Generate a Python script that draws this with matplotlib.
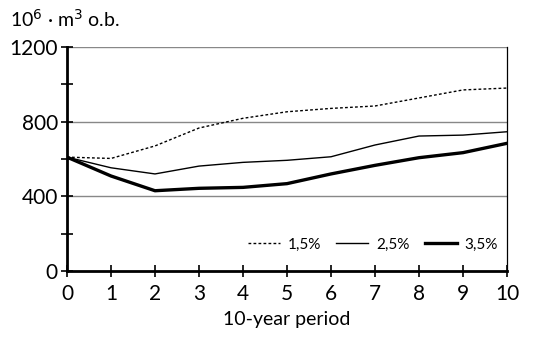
import numpy as np
import matplotlib.pyplot as plt
from matplotlib.ticker import MultipleLocator

# data
periods = np.arange(0, 11)
r15 = [610, 603, 670, 766, 818, 853, 871, 884, 927, 970, 980]
r25 = [610, 553, 520, 562, 582, 593, 612, 675, 723, 728, 746]
r35 = [610, 509, 430, 443, 448, 468, 520, 566, 607, 634, 684]

plt.rcParams['font.family'] = ['Lato', 'DejaVu Sans']

fig = plt.figure(figsize=(5.35, 3.4), dpi=100)
ax = fig.add_axes([0.1252, 0.2029, 0.8225, 0.6589])

# gray grid lines
for v in (400, 800, 1200):
    ax.axhline(v, color='#888888', lw=1.0, zorder=1)

ax.plot(periods, r15, color='black', lw=1.0, ls=(0, (2, 1.6)), label='1,5%', zorder=3)
ax.plot(periods, r25, color='black', lw=1.0, label='2,5%', zorder=3)
ax.plot(periods, r35, color='black', lw=2.4, label='3,5%', zorder=3)

ax.set_xlim(0, 10)
ax.set_ylim(0, 1200)
ax.set_xticks(periods)
ax.set_yticks([0, 400, 800, 1200])
ax.yaxis.set_minor_locator(MultipleLocator(200))

ax.spines['top'].set_visible(False)
ax.spines['left'].set_linewidth(2.0)
ax.spines['bottom'].set_linewidth(2.0)
ax.spines['right'].set_linewidth(0.9)

ax.tick_params(axis='both', which='both', direction='inout', length=9, width=1.2,
               labelsize=15)
ax.tick_params(axis='y', which='major', pad=2)
ax.tick_params(axis='x', which='major', pad=5)

ax.set_xlabel('10-year period', fontsize=14, labelpad=5)
fig.text(0.019, 0.945, r'10$^6$ · m$^3$ o.b.', fontsize=14, ha='left', va='center')

leg = ax.legend(loc='lower right', bbox_to_anchor=(1.0, 0.045), ncol=3, frameon=False,
                fontsize=11, handlelength=2.1, handletextpad=0.5, columnspacing=1.0,
                borderaxespad=0.2)

fig.savefig('out.png', dpi=100)
